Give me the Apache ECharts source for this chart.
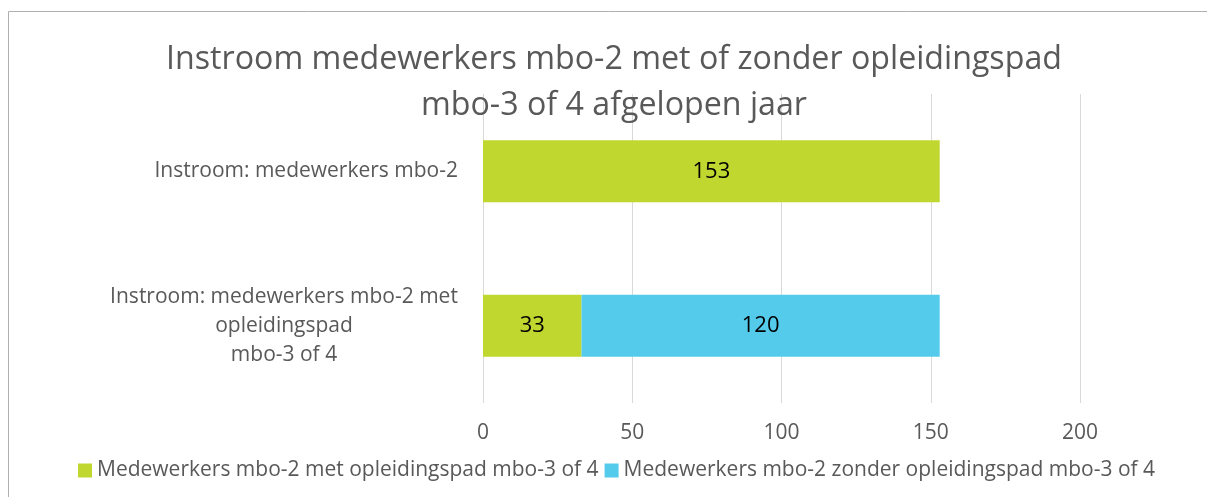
<!DOCTYPE html>
<html>
<head>
<meta charset="utf-8">
<script src="https://cdn.jsdelivr.net/npm/echarts@6/dist/echarts.min.js"></script>
<style>
html,body{margin:0;padding:0;background:#fff;}
#chart{width:1207px;height:497px;}
</style>
</head>
<body>
<div id="chart"></div>
<script>
const titleText = 'Instroom medewerkers mbo-2 met of zonder opleidingspad\nmbo-3 of 4 afgelopen jaar';
const categories = ['Instroom: medewerkers mbo-2', 'Instroom: medewerkers mbo-2 met\nopleidingspad\nmbo-3 of 4'];
const seriesNames = ['Medewerkers mbo-2 met opleidingspad mbo-3 of 4', 'Medewerkers mbo-2 zonder opleidingspad mbo-3 of 4'];
const metValues = [153, 33];
const zonderValues = [null, 120];
const xTicks = [0, 50, 100, 150, 200];

const FONT = 'Open Sans';
const GRAY = '#595959';
const LABEL_SIZE = 21;

function measure(text, size) {
  const c = document.createElement('canvas').getContext('2d');
  c.font = size + 'px "' + FONT + '"';
  return c.measureText(text).width;
}

const chart = echarts.init(document.getElementById('chart'));
chart.setOption({
  animation: false,
  textStyle: { fontFamily: FONT },
  graphic: [{
    type: 'rect',
    shape: { x: 8.5, y: 11.5, width: 1400, height: 700 },
    style: { fill: 'none', stroke: '#b0b0b0', lineWidth: 1 },
    silent: true
  }],
  title: {
    text: titleText,
    left: 609,
    textAlign: 'center',
    top: 32,
    textStyle: { fontFamily: FONT, fontSize: 32.2, fontWeight: 'normal', color: GRAY, lineHeight: 46 }
  },
  grid: { left: 483, right: 127, top: 94, bottom: 94 },
  xAxis: {
    type: 'value',
    min: xTicks[0],
    max: xTicks[xTicks.length - 1],
    interval: 50,
    axisLine: { show: false },
    axisTick: { show: false },
    splitLine: { lineStyle: { color: '#d9d9d9', width: 1 } },
    axisLabel: { color: GRAY, fontSize: LABEL_SIZE, fontFamily: FONT, margin: 20 }
  },
  yAxis: {
    type: 'category',
    data: categories,
    inverse: true,
    axisLine: { show: false },
    axisTick: { show: false },
    axisLabel: {
      color: GRAY,
      fontSize: LABEL_SIZE,
      fontFamily: FONT,
      margin: 25,
      lineHeight: 29,
      formatter: function (v) {
        const lines = v.split('\n');
        if (lines.length === 1) return v;
        return lines.map(l => '{c|' + l + '}').join('\n');
      },
      rich: {
        c: { align: 'center', fontSize: LABEL_SIZE, color: GRAY, fontFamily: FONT, lineHeight: 29, width: Math.ceil(measure('Instroom: medewerkers mbo-2 met', LABEL_SIZE)) }
      }
    }
  },
  legend: {
    left: 73,
    top: 455,
    icon: 'rect',
    itemWidth: 14,
    itemHeight: 14,
    itemGap: 6,
    textStyle: { color: GRAY, fontSize: LABEL_SIZE, fontFamily: FONT },
    data: seriesNames
  },
  series: [
    {
      name: seriesNames[0],
      type: 'bar',
      stack: 'total',
      barWidth: '40%',
      data: metValues,
      itemStyle: { color: '#C0D72F' },
      label: { show: true, position: 'inside', color: '#000', fontSize: 22, fontFamily: FONT }
    },
    {
      name: seriesNames[1],
      type: 'bar',
      stack: 'total',
      barWidth: '40%',
      data: zonderValues,
      itemStyle: { color: '#55CBEB' },
      label: { show: true, position: 'inside', color: '#000', fontSize: 22, fontFamily: FONT }
    }
  ]
});
</script>
</body>
</html>
